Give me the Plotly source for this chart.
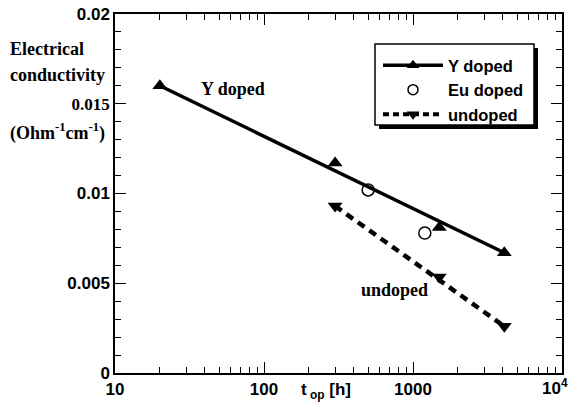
import math
import plotly.graph_objects as go

# ---- data ----
y_fit_x = [20, 4100]
y_fit_y = [0.0160, 0.0067]
y_pts_x = [20, 300, 1500, 4100]
y_pts_y = [0.0160, 0.0117, 0.0081, 0.0067]

eu_x = [500, 1200]
eu_y = [0.0102, 0.0078]

un_fit_x = [300, 4100]
un_fit_y = [0.0093, 0.0026]
un_pts_x = [300, 1500, 4100]
un_pts_y = [0.0093, 0.00535, 0.0026]

x_tickvals = [10, 100, 1000, 10000]
x_ticktext = ["10", "100", "1000", ""]   # last label drawn as annotation to keep it inside the page
x_last_label = "10<sup>4</sup>"
y_tickvals = [0, 0.005, 0.01, 0.015, 0.02]
y_ticktext = ["0", "0.005", "0.01", "<span style='font-family:Liberation Serif'>0.015</span>", "0.02"]

SANS = "Liberation Sans"
SERIF = "Liberation Serif"

W, H = 576, 414
L, R, T, B = 115, 14, 14, 41
PX0, PW, PY0, PH = 115, 447, 373, 359   # plot area in page pixels (left, width, bottom, height)

def px(x):
    return (x - PX0) / PW

def py(y):
    return (PY0 - y) / PH

fig = go.Figure()

fig.add_trace(go.Scatter(x=y_fit_x, y=y_fit_y, mode="lines",
                         line=dict(color="black", width=3.5), showlegend=False))
fig.add_trace(go.Scatter(x=y_pts_x, y=y_pts_y, mode="markers",
                         marker=dict(symbol="triangle-up", size=13, color="black"),
                         showlegend=False))
fig.add_trace(go.Scatter(x=un_fit_x, y=un_fit_y, mode="lines",
                         line=dict(color="black", width=4.5, dash="8px,6px"), showlegend=False))
fig.add_trace(go.Scatter(x=un_pts_x, y=un_pts_y, mode="markers",
                         marker=dict(symbol="triangle-down", size=13, color="black"),
                         showlegend=False))
fig.add_trace(go.Scatter(x=eu_x, y=eu_y, mode="markers",
                         marker=dict(symbol="circle-open", size=12, color="black",
                                     line=dict(width=1.5, color="black")),
                         showlegend=False))

# legend entries
fig.add_trace(go.Scatter(x=[None], y=[None], mode="lines+markers", name="Y doped",
                         line=dict(color="black", width=3.5),
                         marker=dict(symbol="triangle-up", size=11, color="black")))
fig.add_trace(go.Scatter(x=[None], y=[None], mode="markers", name="Eu doped",
                         marker=dict(symbol="circle-open", size=10, color="black",
                                     line=dict(width=1.5, color="black"))))
fig.add_trace(go.Scatter(x=[None], y=[None], mode="lines+markers", name="undoped",
                         line=dict(color="black", width=4, dash="6px,4px"),
                         marker=dict(symbol="triangle-down", size=11, color="black")))

# mirror axes carrier
fig.add_trace(go.Scatter(x=[None], y=[None], xaxis="x2", yaxis="y2", showlegend=False,
                         hoverinfo="skip"))

tickfont = dict(family=SANS, size=17, color="black", weight="bold")
common = dict(showgrid=False, zeroline=False, showline=True, linecolor="black",
              linewidth=1.5, ticks="inside", ticklen=11, tickwidth=1.3, tickcolor="black",
              automargin=False)
xminor = dict(ticks="inside", ticklen=6, tickwidth=1.3, tickcolor="black", dtick="D1", showgrid=False)
yminor = dict(ticks="inside", ticklen=6, tickwidth=1.3, tickcolor="black", dtick=0.001, showgrid=False)

fig.update_layout(
    xaxis=dict(type="log", range=[1, 4], tickvals=x_tickvals, ticktext=x_ticktext,
               tickfont=tickfont, minor=xminor, ticklabeloverflow="allow", **common),
    yaxis=dict(range=[0, 0.02], tickvals=y_tickvals, ticktext=y_ticktext,
               tickfont=tickfont, minor=yminor, ticklabeloverflow="allow", **common),
    xaxis2=dict(type="log", range=[1, 4], tickvals=x_tickvals, overlaying="x", side="top",
                showticklabels=False, minor=xminor, **common),
    yaxis2=dict(range=[0, 0.02], tickvals=y_tickvals, overlaying="y", side="right",
                showticklabels=False, minor=yminor, **common),
)

def ann(text, x, y, xref="x", yref="y", family=SERIF, size=18, xanchor="center"):
    fig.add_annotation(text=text, x=x, y=y, xref=xref, yref=yref, showarrow=False,
                       xanchor=xanchor, yanchor="middle",
                       font=dict(family=family, size=size, color="black", weight="bold"))

ann("Y doped", math.log10(62), 0.0158)
ann("undoped", math.log10(757), 0.00462)

ann("Electrical", px(8), py(49), "paper", "paper", xanchor="left")
ann("conductivity", px(8), py(75), "paper", "paper", xanchor="left")
ann("(Ohm<sup>-1</sup>cm<sup>-1</sup>)", px(8), py(132), "paper", "paper", xanchor="left")
ann("t<sub> op</sub> [h]", px(326), py(391), "paper", "paper", family=SANS, size=17)
ann(x_last_label, px(570), py(387), "paper", "paper", family=SANS, size=17, xanchor="right")

# legend box with drop shadow
fig.add_shape(type="rect", xref="paper", yref="paper",
              x0=px(379), x1=px(538), y0=py(129), y1=py(48),
              fillcolor="black", line=dict(width=0), layer="above")
fig.add_shape(type="rect", xref="paper", yref="paper",
              x0=px(375), x1=px(534), y0=py(125), y1=py(44),
              fillcolor="white", line=dict(width=1.5, color="black"), layer="above")

fig.update_layout(
    width=W, height=H,
    margin=dict(l=L, r=R, t=T, b=B),
    plot_bgcolor="white", paper_bgcolor="white",
    legend=dict(x=px(378), y=py(48), xanchor="left", yanchor="top",
                bgcolor="rgba(0,0,0,0)", borderwidth=0,
                font=dict(family=SANS, size=16.5, color="black", weight="bold"),
                tracegroupgap=0, itemwidth=60),
    showlegend=True,
)

fig.write_html("out.html",
               config={"displayModeBar": False},
               post_script="document.body.style.margin='0px';document.body.style.overflow='hidden';")
